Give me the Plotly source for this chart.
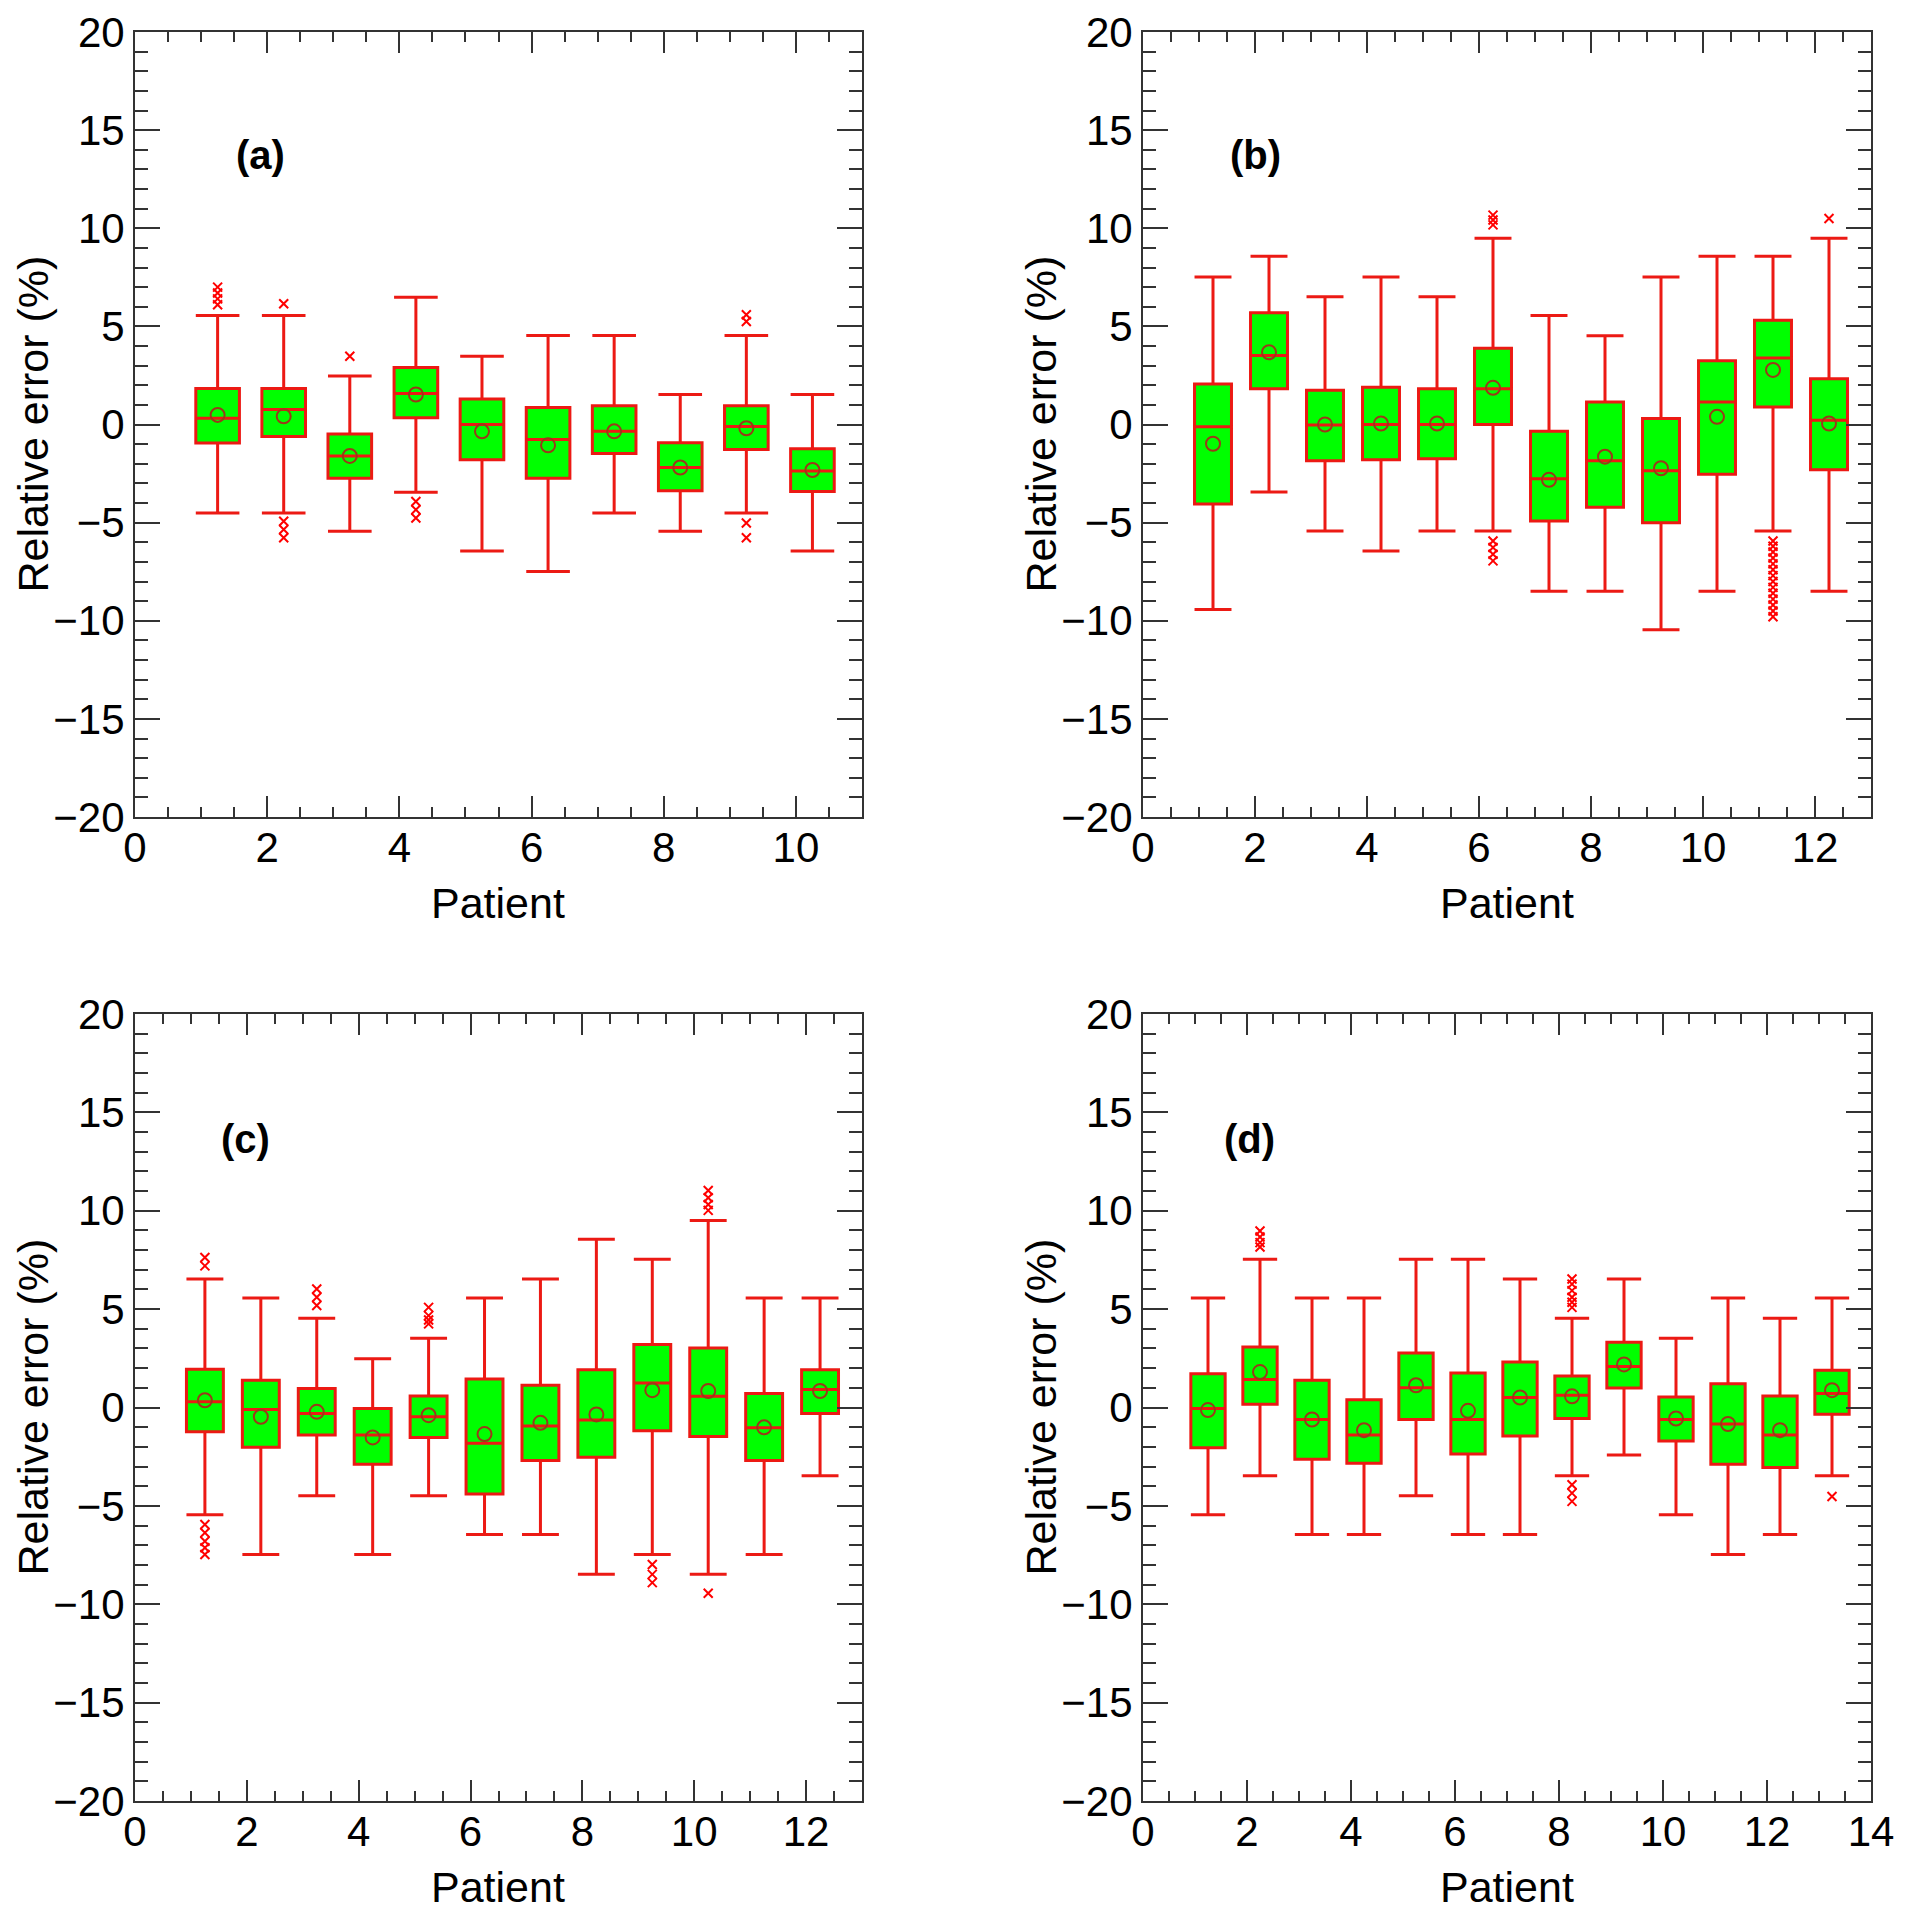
import plotly.graph_objects as go

# ---------------- data ----------------
a_upper = [5.56, 5.56, 2.47, 6.48, 3.48, 4.53, 4.53, 1.53, 4.53, 1.53]
a_q3 = [1.83, 1.83, -0.49, 2.91, 1.30, 0.86, 0.96, -0.93, 0.96, -1.23]
a_median = [0.32, 0.76, -1.60, 1.58, 0.00, -0.77, -0.35, -2.19, -0.10, -2.37]
a_q1 = [-0.94, -0.61, -2.74, 0.34, -1.80, -2.74, -1.48, -3.38, -1.28, -3.42]
a_lower = [-4.51, -4.51, -5.44, -3.45, -6.45, -7.49, -4.51, -5.44, -4.51, -6.45]
a_mean = [0.49, 0.42, -1.60, 1.53, -0.35, -1.06, -0.35, -2.19, -0.19, -2.32]
a_outliers = [[6.1, 6.4, 6.7, 7.0], [6.15, -4.93, -5.35, -5.77], [3.48],
              [-3.92, -4.34, -4.76], [], [], [], [], [5.25, 5.59, -5.02, -5.77], []]

b_upper = [7.52, 8.57, 6.51, 7.52, 6.51, 9.49, 5.56, 4.52, 7.52, 8.57, 8.57, 9.49]
b_q3 = [2.06, 5.70, 1.74, 1.90, 1.82, 3.88, -0.34, 1.15, 0.30, 3.25, 5.31, 2.33]
b_median = [-0.12, 3.51, -0.03, 0.00, 0.00, 1.82, -2.77, -1.85, -2.36, 1.15, 3.39, 0.22]
b_q1 = [-4.05, 1.82, -1.85, -1.80, -1.75, 0.00, -4.92, -4.22, -5.01, -2.53, 0.89, -2.31]
b_lower = [-9.43, -3.44, -5.43, -6.44, -5.43, -5.43, -8.50, -8.50, -10.46, -8.50, -5.43, -8.50]
b_mean = [-0.98, 3.68, 0.00, 0.05, 0.05, 1.87, -2.82, -1.64, -2.23, 0.39, 2.78, 0.05]
b_outliers = [[], [], [], [], [], [10.17, 10.42, 10.67, -5.94, -6.27, -6.61, -6.95],
              [], [], [], [],
              [-5.94, -6.2, -6.5, -6.8, -7.1, -7.4, -7.7, -8.0, -8.3, -8.6, -8.9, -9.2, -9.5, -9.8],
              [10.5]]

c_upper = [6.53, 5.56, 4.54, 2.48, 3.52, 5.56, 6.53, 8.55, 7.54, 9.51, 5.56, 5.56]
c_q3 = [1.94, 1.38, 0.96, -0.05, 0.59, 1.45, 1.13, 1.92, 3.20, 3.02, 0.71, 1.92]
c_median = [0.29, -0.10, -0.30, -1.40, -0.47, -1.82, -0.94, -0.64, 1.25, 0.57, -1.03, 0.91]
c_q1 = [-1.23, -2.02, -1.40, -2.88, -1.52, -4.40, -2.70, -2.53, -1.18, -1.48, -2.70, -0.30]
c_lower = [-5.45, -7.47, -4.49, -7.47, -4.49, -6.46, -6.46, -8.48, -7.47, -8.48, -7.47, -3.47]
c_mean = [0.37, -0.47, -0.22, -1.52, -0.39, -1.35, -0.78, -0.35, 0.88, 0.84, -1.01, 0.84]
c_outliers = [[7.2, 7.62, -5.95, -6.37, -6.8, -7.13, -7.47], [], [5.18, 5.6, 6.02], [],
              [4.25, 4.45, 4.67, 5.09], [], [], [], [-7.98, -8.48, -8.9],
              [10.02, 10.32, 10.66, 11.03, -9.44], [], []]

d_upper = [5.56, 7.54, 5.56, 5.56, 7.54, 7.54, 6.53, 4.54, 6.53, 3.52, 5.56, 4.54, 5.56]
d_q3 = [1.72, 3.07, 1.38, 0.40, 2.77, 1.75, 2.31, 1.60, 3.32, 0.54, 1.21, 0.59, 1.89]
d_median = [-0.05, 1.42, -0.61, -1.40, 1.01, -0.61, 0.51, 0.62, 2.09, -0.61, -0.84, -1.40, 0.71]
d_q1 = [-2.04, 0.17, -2.63, -2.83, -0.61, -2.36, -1.45, -0.56, 0.99, -1.70, -2.88, -3.05, -0.34]
d_lower = [-5.45, -3.47, -6.46, -6.46, -4.49, -6.46, -6.46, -3.47, -2.41, -5.45, -7.47, -6.46, -3.47]
d_mean = [-0.13, 1.80, -0.61, -1.15, 1.13, -0.17, 0.51, 0.57, 2.19, -0.56, -0.84, -1.15, 0.88]
d_outliers = [[], [8.16, 8.38, 8.67, 8.97], [], [], [], [], [],
              [5.09, 5.35, 5.6, 5.94, 6.27, 6.53, -3.93, -4.35, -4.77], [], [], [], [], [-4.52]]

panel_labels = ["(a)", "(b)", "(c)", "(d)"]
x_ranges = [11, 13, 13, 14]
x_title = "Patient"
y_title = "Relative error (%)"

# ---------------- layout helpers ----------------
W, H = 1889, 1904
OFF = 8
def xp(px):
    return (px - OFF) / W
def yp(py):
    return 1 - (py - OFF) / H

FONT = "Liberation Sans, Arial, Helvetica, sans-serif"
BOX_OFFSET = 0.25
LINE_RED = "#EC1A14"
MEAN_COL = "#9A3A1A"

panels = [
    (a_upper, a_q3, a_median, a_q1, a_lower, a_mean, a_outliers),
    (b_upper, b_q3, b_median, b_q1, b_lower, b_mean, b_outliers),
    (c_upper, c_q3, c_median, c_q1, c_lower, c_mean, c_outliers),
    (d_upper, d_q3, d_median, d_q1, d_lower, d_mean, d_outliers),
]
# pixel boxes of plot areas (left, right, top, bottom)
areas = [(135, 862, 32, 817), (1143, 1871, 32, 817),
         (135, 862, 1014, 1801), (1143, 1871, 1014, 1801)]
label_pos = [(260, 155), (1255, 155), (245, 1139), (1249, 1139)]

fig = go.Figure()
layout = dict(width=W, height=H, margin=dict(l=0, r=0, t=0, b=0, autoexpand=False),
              paper_bgcolor="white", plot_bgcolor="white", showlegend=False,
              font=dict(family=FONT, size=42, color="black"))
annotations = []

for i, (up, q3, med, q1, lo, mn, outs) in enumerate(panels):
    n = i + 1
    xa = "x" if n == 1 else f"x{n}"
    ya = "y" if n == 1 else f"y{n}"
    patients = list(range(1, len(up) + 1))
    xs = [p + BOX_OFFSET for p in patients]
    fig.add_trace(go.Box(
        x=xs, q1=q1, median=med, q3=q3, lowerfence=lo, upperfence=up,
        boxpoints=False, width=0.66, whiskerwidth=1,
        fillcolor="#00FF00", line=dict(color=LINE_RED, width=3),
        xaxis=xa, yaxis=ya))
    fig.add_trace(go.Scatter(
        x=xs, y=mn, mode="markers",
        marker=dict(symbol="circle-open", size=14, color=MEAN_COL,
                    line=dict(width=2, color=MEAN_COL)),
        xaxis=xa, yaxis=ya))
    ox, oy = [], []
    for xv, vals in zip(xs, outs):
        for v in vals:
            ox.append(xv)
            oy.append(v)
    fig.add_trace(go.Scatter(
        x=ox, y=oy, mode="markers",
        marker=dict(symbol="x-thin-open", size=9, color="red",
                    line=dict(width=2, color="red")),
        xaxis=xa, yaxis=ya))

    l, r, t, b = areas[i]
    axis_common = dict(showline=True, linecolor="#333333", linewidth=2,
                       mirror="allticks", ticks="inside", tickcolor="#333333",
                       tickwidth=2, showgrid=False, zeroline=False, automargin=False,
                       ticklabeloverflow="allow",
                       tickfont=dict(family=FONT, size=42, color="black"))
    layout["xaxis" if n == 1 else f"xaxis{n}"] = dict(
        axis_common, domain=[xp(l), xp(r)], range=[0, x_ranges[i]],
        tick0=0, dtick=2, ticklen=21, anchor=ya, ticklabelstandoff=-7,
        minor=dict(dtick=0.5, ticklen=10, ticks="inside", tickwidth=2,
                   tickcolor="#333333", showgrid=False))
    layout["yaxis" if n == 1 else f"yaxis{n}"] = dict(
        axis_common, domain=[yp(b), yp(t)], range=[-20, 20],
        tick0=0, dtick=5, ticklen=25, anchor=xa,
        minor=dict(dtick=1, ticklen=13, ticks="inside", tickwidth=2,
                   tickcolor="#333333", showgrid=False))
    # axis titles
    annotations.append(dict(text=x_title, xref="paper", yref="paper",
                            x=xp((l + r) / 2), y=yp(b + 86), showarrow=False,
                            font=dict(family=FONT, size=43, color="black"),
                            xanchor="center", yanchor="middle"))
    annotations.append(dict(text=y_title, xref="paper", yref="paper",
                            x=xp(l - 103), y=yp((t + b) / 2), showarrow=False,
                            textangle=-90,
                            font=dict(family=FONT, size=43, color="black"),
                            xanchor="center", yanchor="middle"))
    lx, ly = label_pos[i]
    annotations.append(dict(text="<b>" + panel_labels[i] + "</b>", xref="paper",
                            yref="paper", x=xp(lx), y=yp(ly), showarrow=False,
                            font=dict(family=FONT, size=40, color="black"),
                            xanchor="center", yanchor="middle"))

layout["annotations"] = annotations
fig.update_layout(**layout)
fig.write_html("out.html")
